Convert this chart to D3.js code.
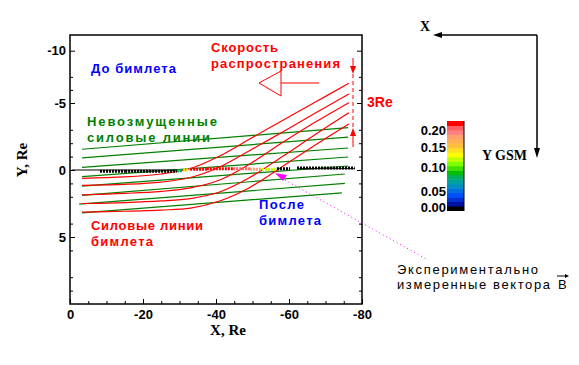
<!DOCTYPE html>
<html>
<head>
<meta charset="utf-8">
<script src="https://cdn.jsdelivr.net/npm/d3@7"></script>
<style>
  body { margin: 0; background: #fff; }
  svg { display: block; }
  .tick text { font-family: "Liberation Sans", Arial, sans-serif; font-weight: bold; font-size: 13px; fill: #000; }
  .tick line { stroke: #000; stroke-width: 1; }
  .lbl { font-family: "Liberation Sans", Arial, sans-serif; font-size: 13px; font-weight: bold; }
  .note { font-family: "Liberation Sans", Arial, sans-serif; font-size: 13px; }
  .ttl { font-family: "Liberation Serif", "Times New Roman", serif; font-weight: bold; font-size: 15px; }
</style>
</head>
<body>
<div id="chart"></div>
<script>
// axis ticks
const xTicks = [0, -20, -40, -60, -80];
const xMinor = [-5, -10, -15, -25, -30, -35, -45, -50, -55, -65, -70, -75];
const yTicks = [-10, -5, 0, 5];
const yMinor = [-7.5, -6.25, -3, -2, -1, 1, 2, 4, 6, 8, 9];

// unperturbed field lines (start / end)
const fieldX0 = [-3.3, -3.3, -3.3, -3.3, -3.3, -3.3, -2.5, -3.3];
const fieldY0 = [-1.55, -0.9, -0.2, 0.5, 1.2, 1.9, 2.55, 3.2];
const fieldX1 = [-76.2, -76.2, -76.2, -76.2, -76.2, -75.3, -75.3, -74.5];
const fieldY1 = [-3.16, -2.46, -1.64, -0.97, -0.3, 0.3, 1.0, 1.7];

// beamlet field lines, sampled at beamX
const beamX = [-3.3, -15, -25, -33, -41, -49, -58, -67, -76.4];
const beam1 = [0.62, 0.52, 0.30, -0.11, -1.04, -2.27, -3.66, -5.05, -6.88];
const beam2 = [1.15, 1.07, 0.90, 0.56, -0.22, -1.42, -2.80, -4.22, -5.86];
const beam3 = [1.85, 1.75, 1.60, 1.34, 0.75, -0.41, -2.01, -3.54, -5.03];
const beam4 = [2.50, 2.43, 2.31, 2.13, 1.64, 0.60, -0.97, -2.61, -4.28];
const beam5 = [3.15, 3.08, 2.99, 2.84, 2.31, 1.34, -0.22, -1.83, -3.43];

// measured vectors along the track: segments with |B|
const trackStart = -0.5, trackEnd = -78.0;
const vecFrom = [-8.2, -15.1, -29.3, -31.0, -32.9, -37.5, -44.7, -49.3, -52.6, -56.7, -62.2];
const vecTo   = [-15.1, -29.3, -31.0, -32.9, -37.5, -44.7, -49.3, -52.6, -56.7, -60.3, -78.0];
const vecB    = [0.00, 0.00, 0.07, 0.13, 0.19, 0.20, 0.18, 0.16, 0.12, 0.00, 0.00];
const vecY    = [0.1, 0.1, 0.05, 0.0, -0.05, -0.1, -0.1, -0.05, -0.05, -0.1, -0.15];

// colour bar (bottom 0.00 -> top 0.20)
const barColors = ["#000000", "#0010a0", "#0030d0", "#0050ff", "#0070e0", "#0090c0", "#00a0a0",
  "#00b060", "#00c000", "#40e000", "#80ff00", "#c0ff00", "#ffff00", "#ffe020", "#ffc040",
  "#ffb050", "#ffa070", "#ff8080", "#ff6060", "#ff0000"];
const barTicks = [0.00, 0.05, 0.10, 0.15, 0.20];

const width = 579, height = 365;
const svg = d3.select("#chart").append("svg").attr("width", width).attr("height", height);

const x = d3.scaleLinear().domain([0, -80]).range([70, 362]);
const y = d3.scaleLinear().domain([-11.5, -5, 0, 10]).range([35, 103, 170, 304]);
const bColor = d3.scaleQuantize().domain([0, 0.2]).range(barColors);

// axes, ticks inward
svg.append("g").attr("transform", "translate(0,304)")
  .call(d3.axisBottom(x).tickValues(xMinor).tickSize(-3).tickFormat(""))
  .call(g => g.select(".domain").remove());
svg.append("g").attr("transform", "translate(0,304)")
  .call(d3.axisBottom(x).tickValues(xTicks).tickSize(-5).tickPadding(6).tickFormat(d => String(d)))
  .call(g => g.select(".domain").remove());
svg.append("g").attr("transform", "translate(70,0)")
  .call(d3.axisLeft(y).tickValues(yMinor).tickSize(-3).tickFormat(""))
  .call(g => g.select(".domain").remove());
svg.append("g").attr("transform", "translate(70,0)")
  .call(d3.axisLeft(y).tickValues(yTicks).tickSize(-5).tickPadding(4).tickFormat(d => String(d)))
  .call(g => g.select(".domain").remove());
svg.append("g").attr("transform", "translate(362,0)")
  .call(d3.axisRight(y).tickValues(yMinor).tickSize(-3).tickFormat(""))
  .call(g => g.select(".domain").remove());
svg.append("g").attr("transform", "translate(362,0)")
  .call(d3.axisRight(y).tickValues(yTicks).tickSize(-5).tickFormat(""))
  .call(g => g.select(".domain").remove());

svg.append("rect")
  .attr("x", x(0)).attr("y", y(-11.5))
  .attr("width", x(-80) - x(0)).attr("height", y(10) - y(-11.5))
  .attr("fill", "none").attr("stroke", "#000").attr("stroke-width", 1.5);

// axis titles
svg.append("text").attr("class", "ttl").attr("x", 228).attr("y", 335)
  .attr("text-anchor", "middle").text("X, Re");
svg.append("text").attr("class", "ttl").attr("transform", "translate(27,160) rotate(-90)")
  .attr("text-anchor", "middle").text("Y, Re");

const line = d3.line().x(d => x(d[0])).y(d => y(d[1]));

// unperturbed lines
const fieldLines = fieldY0.map((v, i) => [[fieldX0[i], v], [fieldX1[i], fieldY1[i]]]);
svg.append("g").selectAll("path").data(fieldLines).enter().append("path")
  .attr("d", line).attr("fill", "none").attr("stroke", "#008000").attr("stroke-width", 1.2);

// beamlet lines
const beamLines = [beam1, beam2, beam3, beam4, beam5].map(b => b.map((v, i) => [beamX[i], v]));
const curve = d3.line().x(d => x(d[0])).y(d => y(d[1])).curve(d3.curveCatmullRom);
svg.append("g").selectAll("path").data(beamLines).enter().append("path")
  .attr("d", curve).attr("fill", "none").attr("stroke", "#ff0000").attr("stroke-width", 1.2);

// measured vectors
svg.append("line").attr("x1", x(trackStart)).attr("x2", x(-29.3))
  .attr("y1", y(0)).attr("y2", y(0)).attr("stroke", "#000").attr("stroke-width", 1);
svg.append("line").attr("x1", x(-62.2)).attr("x2", x(trackEnd))
  .attr("y1", y(-0.1)).attr("y2", y(-0.1)).attr("stroke", "#000").attr("stroke-width", 1);
const vecs = vecFrom.map((v, i) => ({ x0: v, x1: vecTo[i], b: vecB[i], y: vecY[i] }));
svg.append("g").selectAll("line").data(vecs).enter().append("line")
  .attr("x1", d => x(d.x0)).attr("x2", d => x(d.x1))
  .attr("y1", d => y(d.y)).attr("y2", d => y(d.y))
  .attr("stroke", d => bColor(d.b))
  .attr("stroke-width", 3)
  .attr("stroke-dasharray", "2,1");

// beamlet size marker
const red = "#ff0000";
svg.append("line").attr("x1", 353).attr("x2", 353).attr("y1", 58).attr("y2", 68).attr("stroke", red);
svg.append("line").attr("x1", 353).attr("x2", 353).attr("y1", 74).attr("y2", 127)
  .attr("stroke", red).attr("stroke-dasharray", "4,3");
svg.append("line").attr("x1", 353).attr("x2", 353).attr("y1", 135).attr("y2", 147).attr("stroke", red);
svg.append("polygon").attr("points", "350,66 356,66 353,74").attr("fill", red);
svg.append("polygon").attr("points", "350,136 356,136 353,128").attr("fill", red);
svg.append("text").attr("class", "lbl").attr("x", 367).attr("y", 107).attr("fill", red)
  .style("font-size", "14px").text("3Re");

// propagation arrow
svg.append("polygon").attr("points", "259,83 281,71 281,96")
  .attr("fill", "none").attr("stroke", red);
svg.append("line").attr("x1", 281).attr("x2", 319).attr("y1", 83).attr("y2", 83).attr("stroke", red);

// labels
const labels = [
  { t: "До бимлета", x: 91, y: 73, w: 85, c: "#0000ff" },
  { t: "Невозмущенные", x: 87, y: 126, w: 130, c: "#008000" },
  { t: "силовые линии", x: 87, y: 142, w: 123, c: "#008000" },
  { t: "Скорость", x: 211, y: 52, w: 67, c: red },
  { t: "распространения", x: 211, y: 68, w: 129, c: red },
  { t: "После", x: 259, y: 209, w: 45, c: "#0000ff" },
  { t: "бимлета", x: 259, y: 225, w: 62, c: "#0000ff" },
  { t: "Силовые линии", x: 91, y: 230, w: 112, c: red },
  { t: "бимлета", x: 91, y: 246, w: 62, c: red }
];
svg.append("g").selectAll("text").data(labels).enter().append("text")
  .attr("class", "lbl").attr("x", d => d.x).attr("y", d => d.y)
  .attr("fill", d => d.c).attr("textLength", d => d.w).attr("lengthAdjust", "spacing")
  .text(d => d.t);

// experimental pointer
const mag = "#ff00ff";
svg.append("polygon").attr("points", "275,173 287,175 283,181").attr("fill", mag);
svg.append("line").attr("x1", 285).attr("y1", 180).attr("x2", 428).attr("y2", 260)
  .attr("stroke", mag).attr("stroke-dasharray", "1,3");
svg.append("text").attr("class", "note").attr("x", 397).attr("y", 274)
  .attr("textLength", 141).attr("lengthAdjust", "spacing").text("Экспериментально");
svg.append("text").attr("class", "note").attr("x", 397).attr("y", 289)
  .attr("textLength", 153).attr("lengthAdjust", "spacing").text("измеренные вектора");
svg.append("text").attr("class", "note").attr("x", 558).attr("y", 289).text("B");
svg.append("line").attr("x1", 557).attr("x2", 566).attr("y1", 276).attr("y2", 276).attr("stroke", "#000");
svg.append("polygon").attr("points", "565,274 569,276 565,278").attr("fill", "#000");

// GSM axes sketch
svg.append("line").attr("x1", 537).attr("y1", 35).attr("x2", 440).attr("y2", 35).attr("stroke", "#000").attr("stroke-width", 1.5);
svg.append("polygon").attr("points", "433,35 442,32 442,38").attr("fill", "#000");
svg.append("line").attr("x1", 537).attr("y1", 35).attr("x2", 537).attr("y2", 150).attr("stroke", "#000").attr("stroke-width", 1.5);
svg.append("polygon").attr("points", "537,158 534,148 540,148").attr("fill", "#000");
svg.append("text").attr("class", "ttl").style("font-size", "14px").attr("x", 420).attr("y", 31).text("X");
svg.append("text").attr("class", "ttl").style("font-size", "14px").attr("x", 527).attr("y", 160)
  .attr("text-anchor", "end").text("Y GSM");

// colour bar
const band = d3.scaleBand().domain(d3.range(barColors.length)).range([210.5, 121]);
svg.append("g").selectAll("rect").data(barColors).enter().append("rect")
  .attr("x", 447).attr("width", 17)
  .attr("y", (d, i) => band(i)).attr("height", band.bandwidth() + 0.5)
  .attr("fill", d => d);
svg.append("line").attr("x1", 464).attr("x2", 464).attr("y1", 121).attr("y2", 211).attr("stroke", "#000");
const barScale = d3.scaleLinear().domain([0, 0.05, 0.10, 0.15, 0.20]).range([207, 191, 167, 147, 130]);
svg.append("g").selectAll("text").data(barTicks).enter().append("text")
  .attr("class", "lbl").attr("x", 446).attr("y", d => barScale(d)).attr("dy", "0.36em")
  .attr("text-anchor", "end").attr("fill", "#000").text(d => d.toFixed(2));
</script>
</body>
</html>
